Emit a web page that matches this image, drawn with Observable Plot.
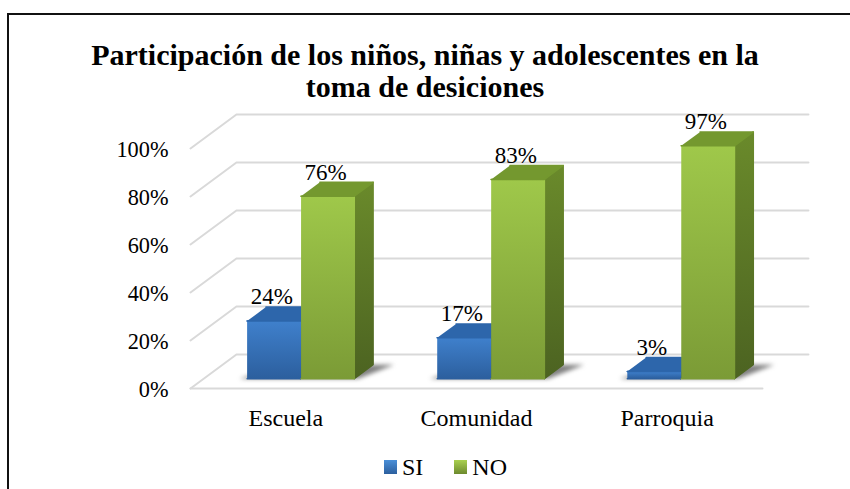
<!DOCTYPE html>
<html lang="es"><head><meta charset="utf-8">
<script src="https://cdn.jsdelivr.net/npm/d3@7"></script>
<script src="https://cdn.jsdelivr.net/npm/@observablehq/plot@0.6"></script>
<style>
html,body{margin:0;padding:0;background:#fff;}
#frame{position:relative;width:850px;height:489px;overflow:hidden;font-family:"Liberation Serif",serif;color:#000;}
#box{position:absolute;left:7px;top:13px;right:-5px;bottom:-5px;border:2px solid #111;}
#title{position:absolute;left:0;width:850px;top:39px;margin:0;text-align:center;font-size:30px;line-height:32px;font-weight:bold;}
#chart{position:absolute;left:0;top:100px;}
#chart svg{display:block;overflow:visible;}
#legend{position:absolute;top:453px;left:384px;display:flex;align-items:center;font-size:24px;line-height:28px;}
#legend i{display:inline-block;width:13px;height:14px;margin-right:5px;}
#legend span{margin-right:31px;}
.shadow{filter:blur(2px);}
</style></head>
<body>
<div id="frame">
<div id="box"></div>
<h2 id="title">Participación de los niños, niñas y adolescentes en la<br>toma de desiciones</h2>
<div id="chart"></div>
<div id="legend"><i style="background:linear-gradient(#4a8fd8,#2c5f9e)"></i><span>SI</span><i style="background:linear-gradient(#a9d04f,#6d8a2e)"></i><span>NO</span></div>
</div>
<script>
const categories = ["Escuela", "Comunidad", "Parroquia"];
const siValues = [24, 17, 3];
const noValues = [76, 83, 97];
const yTicks = [0, 20, 40, 60, 80, 100];

// oblique depth of the chart floor, in data units
const depthX = 0.241, depthY = 14.17;
const floorEnd = categories.length;
const project = (u, d, v) => ({x: u + d * depthX, y: v + d * depthY});
const barNear = 0.29, barFar = 0.70, barW = 0.279;
const siStart = 0.227, noStart = siStart + barW + 0.004;

const poly = (pts) => pts.map(([u, d, v]) => project(u, d, v));
const bars = (start, values) => values.map((v, i) => {
  const a = i * 0.997 + start, b = a + barW;
  return {
    category: categories[i], value: v, cx: a + barW / 2,
    front: poly([[a, barNear, 0], [b, barNear, 0], [b, barNear, v], [a, barNear, v]]),
    top: poly([[a, barNear, v], [b, barNear, v], [b, barFar, v], [a, barFar, v]]),
    side: poly([[b, barNear, 0], [b, barFar, 0], [b, barFar, v], [b, barNear, v]])
  };
});
const si = bars(siStart, siValues), no = bars(noStart, noValues);

const face = (list, key, fill) => list.map(b =>
  Plot.line(b[key], {x: "x", y: "y", fill, stroke: fill, strokeWidth: 1.5, strokeLinejoin: "round"}));
const shadows = categories.map((c, i) =>
  Plot.line(poly([[i * 0.997 + siStart - 0.04, barNear, 0], [i * 0.997 + noStart + barW + 0.02, barNear, 0],
                  [i * 0.997 + noStart + barW + 0.11, barFar, 0], [i * 0.997 + siStart + 0.1, barFar, 0]]),
    {x: "x", y: "y", fill: "#555", stroke: "none", fillOpacity: 0.75, className: "shadow"}));

const grid = yTicks.map(v =>
  Plot.line([project(0, 0, v), project(0, 1, v), project(floorEnd, 1, v)],
    {x: "x", y: "y", stroke: "#d9d9d9", strokeWidth: 2}));
const floorFront = Plot.line([project(0, 0, 0), project(floorEnd, 0, 0)],
    {x: "x", y: "y", stroke: "#d9d9d9", strokeWidth: 2});

const labels = (list, dx) => Plot.text(list, {
  x: b => project(b.cx, barNear, 0).x, y: b => project(0, barNear, b.value).y,
  text: b => b.value + "%", dy: -24, dx, fontSize: 23, fontFamily: "Liberation Serif", fill: "#000"
});

const plot = Plot.plot({
  width: 850, height: 335,
  marginLeft: 190, marginRight: 88, marginTop: 48, marginBottom: 47,
  style: {fontFamily: "Liberation Serif", background: "transparent"},
  x: {domain: [0, floorEnd], axis: null},
  y: {domain: [0, 100], axis: null},
  marks: [
    ...grid, floorFront, ...shadows,
    Plot.axisY({ticks: yTicks, tickFormat: d => d + "%", tickSize: 0, tickPadding: 22, fontSize: 22.3, dy: 1.5, label: null, fill: "#000"}),
    Plot.axisX({ticks: categories.map((c, i) => i + 0.5), tickFormat: d => categories[d - 0.5], tickSize: 0, tickPadding: 20, fontSize: 24, label: null, fill: "#000"}),
    ...face(si, "side", "url(#siSide)"), ...face(si, "front", "url(#siFront)"), ...face(si, "top", "#2d66ab"),
    ...face(no, "side", "url(#noSide)"), ...face(no, "front", "url(#noFront)"), ...face(no, "top", "#74982f"),
    labels(si, -2), labels(no, -2)
  ]
});

const defs = d3.select(plot).insert("defs", ":first-child");
const grad = (id, c0, c1) => {
  const g = defs.append("linearGradient").attr("id", id).attr("x1", 0).attr("x2", 0).attr("y1", 0).attr("y2", 1);
  g.append("stop").attr("offset", 0).attr("stop-color", c0);
  g.append("stop").attr("offset", 1).attr("stop-color", c1);
};
grad("siFront", "#3f80cc", "#2c5f9e");
grad("siSide", "#265690", "#1d4474");
grad("noFront", "#9fc84a", "#7b9b36");
grad("noSide", "#6a8a2b", "#4c6321");
document.getElementById("chart").appendChild(plot);
</script>
</body></html>
